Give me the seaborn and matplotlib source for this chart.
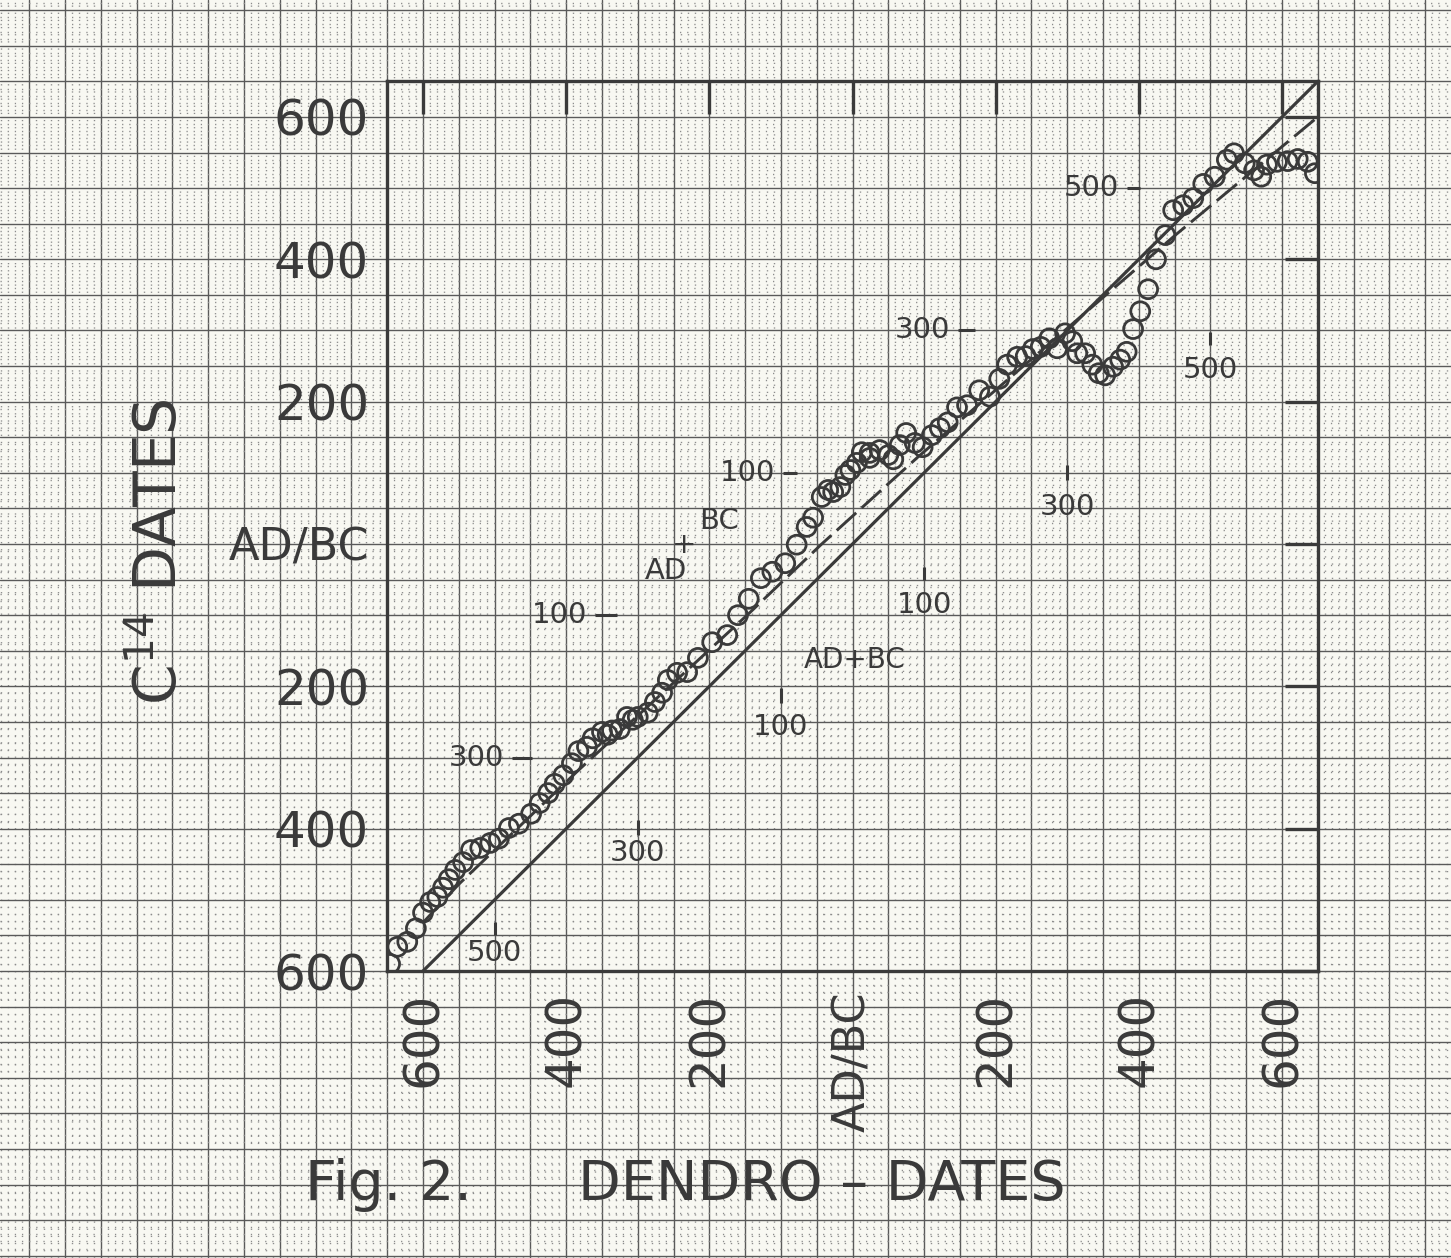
import numpy as np
import pandas as pd
import matplotlib
matplotlib.use("Agg")
import matplotlib.pyplot as plt
from matplotlib.ticker import MultipleLocator
import seaborn as sns

# ---------------- data (years; negative = BC, positive = AD) ----------------
dendro_years = [-646, -636, -622, -610, -600, -590, -580, -572, -564, -555,
                -544, -533, -520, -506, -494, -480, -466, -449, -437, -425,
                -416, -404, -392, -383, -371, -363, -350, -342, -336, -325,
                -315, -307, -300, -286, -276, -266, -258, -245, -231, -216,
                -196, -175, -160, -145, -128, -112, -94, -78, -64, -55,
                -43, -34, -27, -17, -10, -3, 6, 13, 24, 24,
                38, 50, 57, 66, 75, 87, 98, 111, 122, 133,
                146, 160, 177, 192, 205, 216, 230, 242, 252, 263,
                275, 286, 297, 307, 314, 325, 335, 344, 353, 364,
                374, 383, 392, 402, 413, 424, 437, 448, 462, 476,
                490, 506, 523, 533, 548, 561, 571, 579, 593, 608,
                622, 636, 646]
c14_years = [-590, -566, -559, -540, -518, -503, -496, -483, -471, -458,
             -447, -430, -427, -420, -414, -399, -393, -379, -364, -350,
             -337, -325, -308, -291, -285, -273, -264, -268, -262, -260,
             -243, -247, -243, -237, -222, -209, -191, -181, -180, -160,
             -138, -128, -100, -77, -48, -39, -27, -1, 24, 37,
             66, 76, 73, 80, 97, 104, 114, 129, 128, 121,
             132, 125, 119, 139, 156, 142, 136, 153, 163, 171,
             192, 195, 216, 207, 232, 252, 263, 264, 274, 277,
             289, 275, 296, 285, 268, 268, 252, 240, 237, 249,
             259, 270, 302, 327, 358, 400, 434, 469, 476, 486,
             506, 516, 540, 549, 535, 525, 516, 533, 537, 538,
             541, 537, 521]

diag_x = [-600, 650]
diag_y = [-600, 650]
dashed_x = [-600, -550, -383, -143, -43, 90, 451, 650]
dashed_y = [-532, -478, -318, -96, 0, 121, 434, 600]

tick_values = [-600, -400, -200, 0, 200, 400, 600]
tick_labels = ["600", "400", "200", "AD/BC", "200", "400", "600"]

# inner dendro scale (below the diagonal)
inner_d_years = [-500, -300, -100, 100, 300, 500]
inner_d_labels = ["500", "300", "100", "100", "300", "500"]
inner_d_tick_lo = [-549, -409, -223, -51, 90, 280]
inner_d_tick_hi = [-531, -388, -202, -32, 111, 298]
inner_d_label_y = [-575, -434, -257, -86, 52, 244]

# inner C14 scale (above the diagonal)
inner_c_years = [500, 300, 100, -100, -300]
inner_c_labels = ["500", "300", "100", "100", "300"]
inner_c_dash_x0 = [383, 147, -97, -360, -476]
inner_c_dash_x1 = [402, 171, -78, -329, -448]

# ---------------- layout constants (pixels) ----------------
W, H = 1451, 1258
X0, Y0 = 852.5, 544.0          # pixel of year 0 (from left / from top)
SX, SY = 0.7158, 0.7117        # pixels per year
XLIM = (-650, 650)
YLIM = (-600, 650)

paper = "#f8f8f2"
ink = "#3a3a3a"

sns.set_theme(style="white")
plt.rcParams["font.family"] = ["DejaVu Sans"]
plt.rcParams["mathtext.default"] = "regular"

fig = plt.figure(figsize=(W / 100, H / 100), dpi=100)
fig.patch.set_facecolor(paper)

# graph-paper background aligned with the data grid
bg = fig.add_axes([0, 0, 1, 1], zorder=0)
bg.set_facecolor(paper)
bg.set_xlim(-X0 / SX, (W - X0) / SX)
bg.set_ylim((Y0 - H) / SY, Y0 / SY)
for axis in (bg.xaxis, bg.yaxis):
    axis.set_major_locator(MultipleLocator(50))
    axis.set_minor_locator(MultipleLocator(10))
bg.grid(which="major", color="#5a5a5a", lw=1.0)
bg.grid(which="minor", color="#8c8c8c", lw=1.0, linestyle=(0, (0.9, 4.25)))
bg.tick_params(which="both", length=0, labelbottom=False, labelleft=False)
for s in bg.spines.values():
    s.set_visible(False)

# main axes
left = (X0 + XLIM[0] * SX) / W
width = (XLIM[1] - XLIM[0]) * SX / W
bottom = (H - (Y0 - YLIM[0] * SY)) / H
height = (YLIM[1] - YLIM[0]) * SY / H
ax = fig.add_axes([left, bottom, width, height], zorder=2)
ax.set_facecolor("none")

sns.lineplot(x=diag_x, y=diag_y, ax=ax, color=ink, lw=2.3,
             estimator=None, sort=False)
sns.lineplot(x=dashed_x, y=dashed_y, ax=ax, color=ink, lw=2.1,
             linestyle=(0, (9, 2.5)), estimator=None, sort=False)
sns.scatterplot(x=dendro_years, y=c14_years, ax=ax, s=185, marker="o",
                facecolor="none", edgecolor=ink, linewidth=2.0, zorder=3)

ax.set_xlim(*XLIM)
ax.set_ylim(*YLIM)
ax.set_xticks(tick_values, tick_labels, rotation=90)
ax.set_yticks(tick_values, tick_labels)
ax.tick_params(which="major", direction="in", length=24, width=2.4,
               color=ink, top=True, right=True, labelsize=36,
               labelcolor=ink)
ax.tick_params(axis="y", pad=13)
ax.tick_params(axis="x", pad=15)
for lbl in ax.get_xticklabels() + ax.get_yticklabels():
    if lbl.get_text() == "AD/BC":
        lbl.set_fontsize(32)
for s in ax.spines.values():
    s.set_linewidth(2.4)
    s.set_color(ink)
ax.set_xlabel("")
ax.set_ylabel("")

# inner dendro scale
ax.vlines(inner_d_years, inner_d_tick_lo, inner_d_tick_hi, color=ink, lw=2.2)
for x, y, t in zip(inner_d_years, inner_d_label_y, inner_d_labels):
    ax.text(x, y, t, ha="center", va="center", fontsize=21, color=ink)
ax.text(3, -163, "AD+BC", ha="center", va="center", fontsize=20, color=ink)

# inner C14 scale
ax.hlines(inner_c_years, inner_c_dash_x0, inner_c_dash_x1, color=ink, lw=2.2)
for y, x0, t in zip(inner_c_years, inner_c_dash_x0, inner_c_labels):
    ax.text(x0 - 11, y, t, ha="right", va="center", fontsize=21, color=ink)
ax.text(-260, -38, "AD", ha="center", va="center", fontsize=21, color=ink)
ax.text(-235, -2, "+", ha="center", va="center", fontsize=21, color=ink)
ax.text(-186, 32, "BC", ha="center", va="center", fontsize=21, color=ink)

# axis titles
fig.text(160 / W, 1 - 552 / H, r"C$^{14}$ DATES", rotation=90,
         ha="center", va="center", fontsize=42, color=ink)
fig.text(305 / W, 1 - 1185 / H, "Fig. 2.", ha="left", va="center",
         fontsize=40, color=ink)
fig.text(578 / W, 1 - 1185 / H, "DENDRO – DATES", ha="left", va="center",
         fontsize=40, color=ink)

fig.savefig("out.png", dpi=100, facecolor=paper)
